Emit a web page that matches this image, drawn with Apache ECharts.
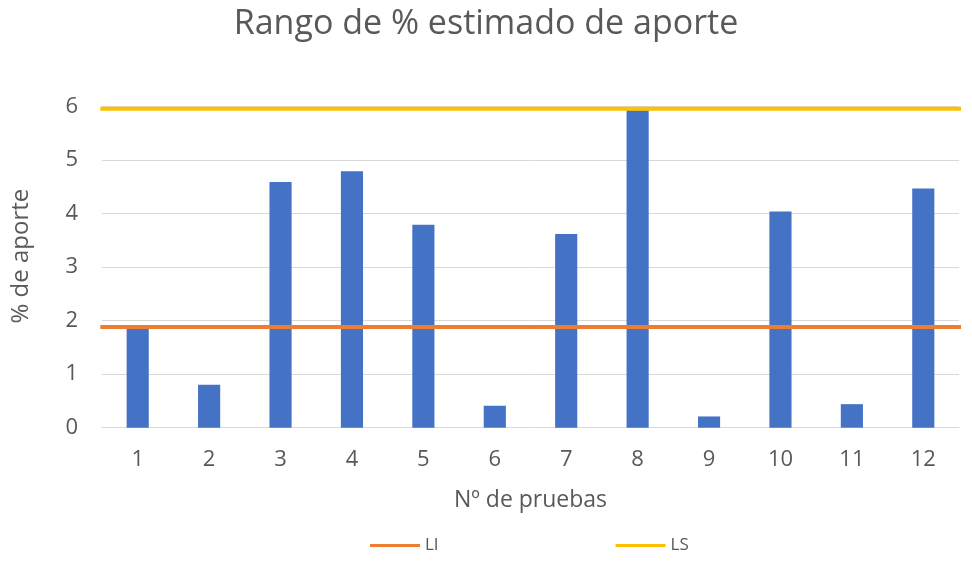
<!DOCTYPE html>
<html>
<head>
<meta charset="utf-8">
<script src="https://cdn.jsdelivr.net/npm/echarts@6/dist/echarts.min.js"></script>
<style>
  html, body { margin: 0; padding: 0; background: #fff; }
  #chart { width: 972px; height: 586px; }
</style>
</head>
<body>
<div id="chart"></div>
<script>
// Tests and their estimated contribution (%)
const pruebas = ['1', '2', '3', '4', '5', '6', '7', '8', '9', '10', '11', '12'];
const aporte = [1.85, 0.80, 4.59, 4.79, 3.79, 0.41, 3.62, 5.93, 0.21, 4.04, 0.44, 4.47];
// Lower and upper limits
const limiteInferior = 1.88;
const limiteSuperior = 5.96;
const yTicks = [0, 1, 2, 3, 4, 5, 6];

const FONT = 'Open Sans';
const TEXT = '#595959';

const chart = echarts.init(document.getElementById('chart'));

// Limit lines run across the whole plot width on a hidden 0..1 axis
const span = [-0.002, 1.016];

chart.setOption({
  animation: false,
  textStyle: { fontFamily: FONT, color: TEXT },
  title: {
    text: 'Rango de % estimado de aporte',
    left: 'center',
    top: 2,
    textStyle: { fontFamily: FONT, fontSize: 34, fontWeight: 'normal', color: TEXT }
  },
  legend: {
    data: ['LI', 'LS'],
    top: 537,
    left: 370,
    padding: 0,
    icon: 'rect',
    itemWidth: 50,
    itemHeight: 3,
    itemGap: 177,
    textStyle: { fontFamily: FONT, fontSize: 17, color: TEXT }
  },
  grid: { left: 102, right: 13, top: 106.5, bottom: 158.3, containLabel: false },
  xAxis: [
    {
      type: 'category',
      data: pruebas,
      name: 'Nº de pruebas',
      nameLocation: 'middle',
      nameGap: 61,
      nameTextStyle: { fontFamily: FONT, fontSize: 23, color: TEXT },
      axisLine: { lineStyle: { color: '#D9D9D9', width: 1 } },
      axisTick: { show: false },
      axisLabel: { fontFamily: FONT, fontSize: 22, color: TEXT, margin: 21 }
    },
    {
      type: 'value',
      min: 0,
      max: 1,
      show: false
    }
  ],
  yAxis: {
    type: 'value',
    min: yTicks[0],
    max: yTicks[yTicks.length - 1],
    interval: 1,
    name: '% de aporte',
    nameLocation: 'middle',
    nameGap: 69,
    nameTextStyle: { fontFamily: FONT, fontSize: 24, color: TEXT, padding: [0, 0, 0, 22] },
    axisLine: { show: false },
    axisTick: { show: false },
    axisLabel: { fontFamily: FONT, fontSize: 22, color: TEXT, margin: 24 },
    splitLine: { lineStyle: { color: '#D9D9D9', width: 1 } }
  },
  series: [
    {
      name: 'Aporte',
      type: 'bar',
      data: aporte,
      barWidth: '31%',
      itemStyle: { color: '#4472C4' }
    },
    {
      name: 'LI',
      type: 'line',
      xAxisIndex: 1,
      data: span.map(x => [x, limiteInferior]),
      symbol: 'none',
      clip: false,
      lineStyle: { color: '#ED7D31', width: 4 },
      itemStyle: { color: '#ED7D31' },
      z: 3
    },
    {
      name: 'LS',
      type: 'line',
      xAxisIndex: 1,
      data: span.map(x => [x, limiteSuperior]),
      symbol: 'none',
      clip: false,
      lineStyle: { color: '#FFC000', width: 4 },
      itemStyle: { color: '#FFC000' },
      z: 3
    }
  ]
});
</script>
</body>
</html>
